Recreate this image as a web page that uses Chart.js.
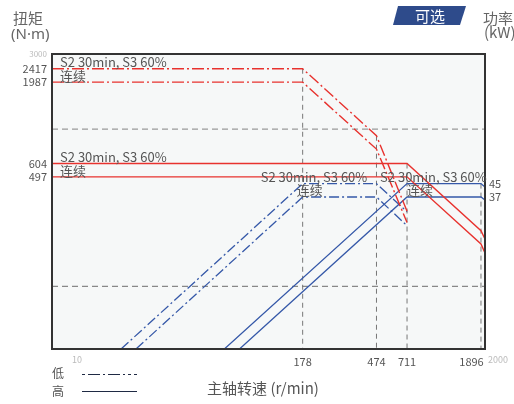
<!DOCTYPE html>
<html><head><meta charset="utf-8">
<script src="https://cdn.jsdelivr.net/npm/chart.js@4"></script>
<style>html,body{margin:0;padding:0;background:#fff;} canvas{display:block}</style>
</head><body>
<canvas id="c" width="514" height="404"></canvas>
<script>
// ---- data (speed r/min, torque N·m, power kW) ----
const speedTicks = [178, 474, 711, 1896];
const torqueTicks = [3000, 2417, 1987, 604, 497];
const powerTicks = [45, 37];
const torqueGrid = [1000, 100];

const lowS2Torque   = [[6.4, 2417], [178, 2417], [474, 907], [711, 300]];
const lowContTorque = [[6.4, 1987], [178, 1987], [474, 746], [711, 255]];
const highS2Torque  = [[6.4, 604], [711, 604], [1896, 226], [2000, 200]];
const highContTorque= [[6.4, 497], [711, 497], [1896, 186], [2000, 163]];

const lowS2Power    = [[16, 4], [178, 45], [474, 45], [711, 29.8]];
const lowContPower  = [[19.5, 4], [178, 37], [474, 37], [711, 24.3]];
const highS2Power   = [[63, 4], [711, 45], [1896, 45], [2000, 42.8]];
const highContPower = [[77, 4], [711, 37], [1896, 37], [2000, 35.4]];

const xMin = 6.4, xMax = 2000, tMin = 40, tMax = 3000, pMin = 4, pMax = 300;

const RED = '#e8322e', BLUE = '#3558a8';
const DASHDOT = [12, 3, 2, 3];
const FONT = '"Noto Sans CJK SC", "Noto Sans", sans-serif';
const LATIN = '"Noto Sans", "Noto Sans CJK SC", sans-serif';
Chart.defaults.font.family = FONT;

const pts = a => a.map(([x, y]) => ({x, y}));
function line(data, color, axis, dash, width) {
  return {data: pts(data), borderColor: color, borderWidth: width || 1.3, borderDash: dash || [],
    yAxisID: axis, pointRadius: 0, fill: false, tension: 0};
}

const datasets = [
  line(lowS2Torque, RED, 'y', DASHDOT, 1.4),
  line(lowContTorque, RED, 'y', DASHDOT, 1.4),
  line(highS2Torque, RED, 'y', [], 1.4),
  line(highContTorque, RED, 'y', [], 1.4),
  line(lowS2Power, BLUE, 'yP', [10, 3, 2, 3], 1.3),
  line(lowContPower, BLUE, 'yP', [10, 3, 2, 3], 1.3),
  line(highS2Power, BLUE, 'yP', [], 1.3),
  line(highContPower, BLUE, 'yP', [], 1.3),
  // drop lines from corner points
  line([[178, lowS2Torque[1][1]], [178, tMin]], '#777', 'y', [5, 4], 1),
  line([[474, lowS2Torque[2][1]], [474, tMin]], '#777', 'y', [5, 4], 1),
  line([[711, highS2Torque[1][1]], [711, tMin]], '#777', 'y', [5, 4], 1),
  line([[1896, highS2Power[2][1]], [1896, pMin]], '#777', 'yP', [5, 4], 1),
  // horizontal grid
  line([[xMin, torqueGrid[0]], [xMax, torqueGrid[0]]], '#999', 'y', [6, 4], 1.2),
  line([[xMin, torqueGrid[1]], [xMax, torqueGrid[1]]], '#888', 'y', [6, 4], 1.2),
];

const decor = {
  id: 'decor',
  beforeDraw(chart) {
    const {ctx, chartArea: a} = chart;
    ctx.save();
    ctx.fillStyle = '#f6f8f8';
    ctx.fillRect(a.left, a.top, a.right - a.left, a.bottom - a.top);
    ctx.restore();
  },
  afterDraw(chart) {
    const {ctx, chartArea: a, scales} = chart;
    const X = v => scales.x.getPixelForValue(v);
    const Y = v => scales.y.getPixelForValue(v);
    const P = v => scales.yP.getPixelForValue(v);
    ctx.save();
    // border
    ctx.strokeStyle = '#333'; ctx.lineWidth = 2; ctx.setLineDash([]);
    ctx.strokeRect(a.left, a.top, a.right - a.left, a.bottom - a.top);

    // annotations
    ctx.fillStyle = '#555';
    ctx.font = '13px ' + FONT;
    ctx.textAlign = 'left'; ctx.textBaseline = 'alphabetic';
    const s2 = 'S2 30min, S3 60%', cont = '连续';
    ctx.fillText(s2, a.left + 8, Y(2417) - 2);
    ctx.fillText(cont, a.left + 8, Y(1987) - 1);
    ctx.fillText(s2, a.left + 8, Y(604) - 2);
    ctx.fillText(cont, a.left + 8, Y(497) - 1);
    ctx.fillText(s2, X(178) - 42, P(45) - 1.5);
    ctx.fillText(cont, X(178) - 6, P(37) - 2);
    ctx.fillText(s2, X(711) - 27, P(45) - 1.5);
    ctx.fillText(cont, X(711), P(37) - 2);

    // axis end labels
    ctx.fillStyle = '#bbb'; ctx.font = '9px ' + FONT; ctx.textAlign = 'center';
    ctx.fillText('10', a.left + 25, a.bottom + 14);
    ctx.fillText('2000', a.right + 13, a.bottom + 14);

    // axis titles
    ctx.fillStyle = '#666'; ctx.font = '15px ' + FONT; ctx.textAlign = 'left';
    ctx.fillText('扭矩', 13, 24);
    ctx.fillText('功率', 483, 24);
    ctx.fillText('(kW)', 484, 38);
    ctx.font = '15px ' + LATIN;
    ctx.fillText('(N·m)', 11, 39);
    ctx.fillStyle = '#555'; ctx.textAlign = 'center'; ctx.font = '15px ' + FONT;
    ctx.fillText('主轴转速 (r/min)', 263, 394);

    // badge
    ctx.fillStyle = '#2e4b8b';
    ctx.beginPath();
    ctx.moveTo(398, 6); ctx.lineTo(466, 6); ctx.lineTo(460, 25); ctx.lineTo(393, 25); ctx.closePath();
    ctx.fill();
    ctx.fillStyle = '#fff'; ctx.font = '15px ' + FONT;
    ctx.fillText('可选', 430, 22);

    // legend
    ctx.fillStyle = '#555'; ctx.font = '12px ' + FONT; ctx.textAlign = 'left';
    ctx.fillText('低', 52, 378);
    ctx.fillText('高', 52, 396);
    ctx.strokeStyle = '#1f2a44'; ctx.lineWidth = 1.2;
    ctx.setLineDash([3, 3, 12, 3, 2, 3, 12, 3, 2, 3]);
    ctx.beginPath(); ctx.moveTo(82, 374.5); ctx.lineTo(137, 374.5); ctx.stroke();
    ctx.setLineDash([]);
    ctx.beginPath(); ctx.moveTo(82, 391.5); ctx.lineTo(137, 391.5); ctx.stroke();
    ctx.restore();
  }
};

new Chart(document.getElementById('c'), {
  type: 'line',
  data: {datasets},
  plugins: [decor],
  options: {
    responsive: false, animation: false,
    layout: {padding: {top: 54, left: 0, right: 0, bottom: 0}},
    plugins: {legend: {display: false}, tooltip: {enabled: false}},
    scales: {
      x: {
        type: 'logarithmic', position: 'bottom', min: xMin, max: xMax,
        afterBuildTicks: s => { s.ticks = speedTicks.map(v => ({value: v})); },
        afterFit: s => { s.height = 55; },
        grid: {display: false, drawTicks: false}, border: {display: false},
        ticks: {autoSkip: false, maxRotation: 0, padding: 6, color: '#555', font: {size: 11},
          // last label sits left of its line (as in the original) to leave room for "2000"
          callback: v => v === speedTicks[speedTicks.length - 1] ? String(v) + '\u2002\u2002\u2002\u0020' : String(v)}
      },
      y: {
        type: 'logarithmic', position: 'left', min: tMin, max: tMax,
        afterBuildTicks: s => { s.ticks = torqueTicks.map(v => ({value: v})); },
        afterFit: s => { s.width = 52; },
        grid: {display: false, drawTicks: false}, border: {display: false},
        ticks: {autoSkip: false, padding: 5, callback: v => String(v),
          color: c => (c.tick && c.tick.value === 3000) ? '#bbb' : '#555',
          font: c => ({size: (c.tick && c.tick.value === 3000) ? 8 : 11})}
      },
      yP: {
        type: 'logarithmic', position: 'right', min: pMin, max: pMax,
        afterBuildTicks: s => { s.ticks = powerTicks.map(v => ({value: v})); },
        afterFit: s => { s.width = 29; },
        grid: {display: false, drawTicks: false}, border: {display: false},
        ticks: {autoSkip: false, padding: 4, color: '#555', font: {size: 11}, callback: v => String(v)}
      }
    }
  }
});
</script>
</body></html>
